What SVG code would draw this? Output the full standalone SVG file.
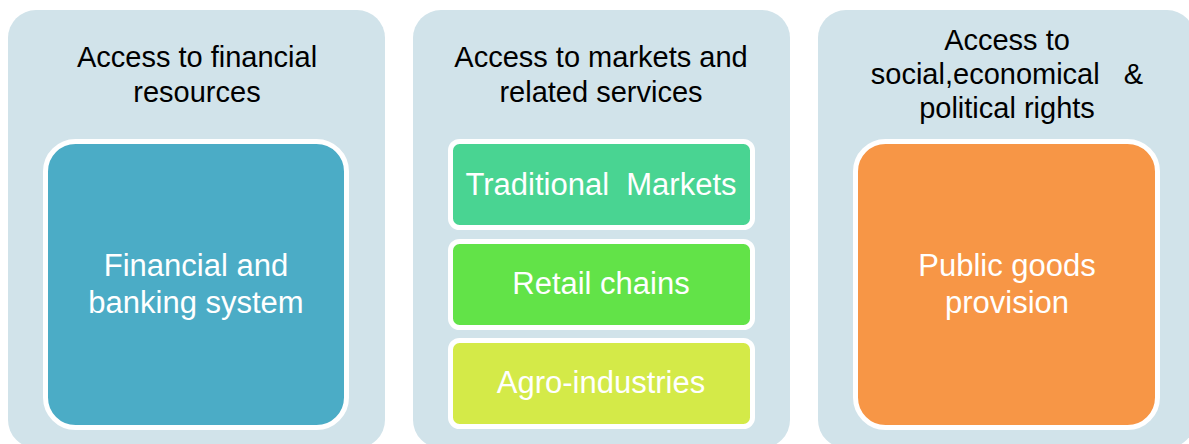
<svg xmlns="http://www.w3.org/2000/svg" width="1189" height="444" viewBox="0 0 1189 444">
<style>
  .panel { fill: #D1E3EA; }
  .box { stroke: #FFFFFF; stroke-width: 5; }
  .title { font-family: "Liberation Sans", Arial, sans-serif; font-size: 29px; fill: #000000; text-anchor: middle; white-space: pre; }
  .label { font-family: "Liberation Sans", Arial, sans-serif; font-size: 31px; fill: #FFFFFF; text-anchor: middle; white-space: pre; }
</style>
<rect width="1189" height="444" fill="#FFFFFF"/>
<g id="panel-financial">
  <rect class="panel" x="8" y="10" width="377" height="438" rx="28"/>
  <text class="title" x="197" y="67">Access to financial</text>
  <text class="title" x="197" y="102">resources</text>
</g>
<g id="node-financial-banking">
  <rect class="box" x="45.5" y="141.5" width="301" height="286" rx="30" fill="#4BACC6"/>
  <text class="label" x="196" y="276">Financial and</text>
  <text class="label" x="196" y="313">banking system</text>
</g>
<g id="panel-markets">
  <rect class="panel" x="413" y="10" width="377" height="438" rx="28"/>
  <text class="title" x="601" y="67">Access to markets and</text>
  <text class="title" x="601" y="102">related services</text>
</g>
<g id="node-traditional-markets">
  <rect class="box" x="450.5" y="141.5" width="302" height="86" rx="9" fill="#49D492"/>
  <text class="label" x="601" y="195">Traditional  Markets</text>
</g>
<g id="node-retail-chains">
  <rect class="box" x="450.5" y="241.5" width="302" height="86" rx="9" fill="#62E348"/>
  <text class="label" x="601" y="294">Retail chains</text>
</g>
<g id="node-agro-industries">
  <rect class="box" x="450.5" y="340.5" width="302" height="86" rx="9" fill="#D4EA48"/>
  <text class="label" x="601" y="393">Agro-industries</text>
</g>
<g id="panel-rights">
  <rect class="panel" x="818" y="10" width="377" height="438" rx="28"/>
  <text class="title" x="1007" y="50">Access to</text>
  <text class="title" x="1007" y="84">social,economical   &amp;</text>
  <text class="title" x="1007" y="118">political rights</text>
</g>
<g id="node-public-goods">
  <rect class="box" x="855.5" y="141.5" width="302" height="286" rx="30" fill="#F79646"/>
  <text class="label" x="1007" y="276">Public goods</text>
  <text class="label" x="1007" y="313">provision</text>
</g>
<g id="connectors"></g>
</svg>
